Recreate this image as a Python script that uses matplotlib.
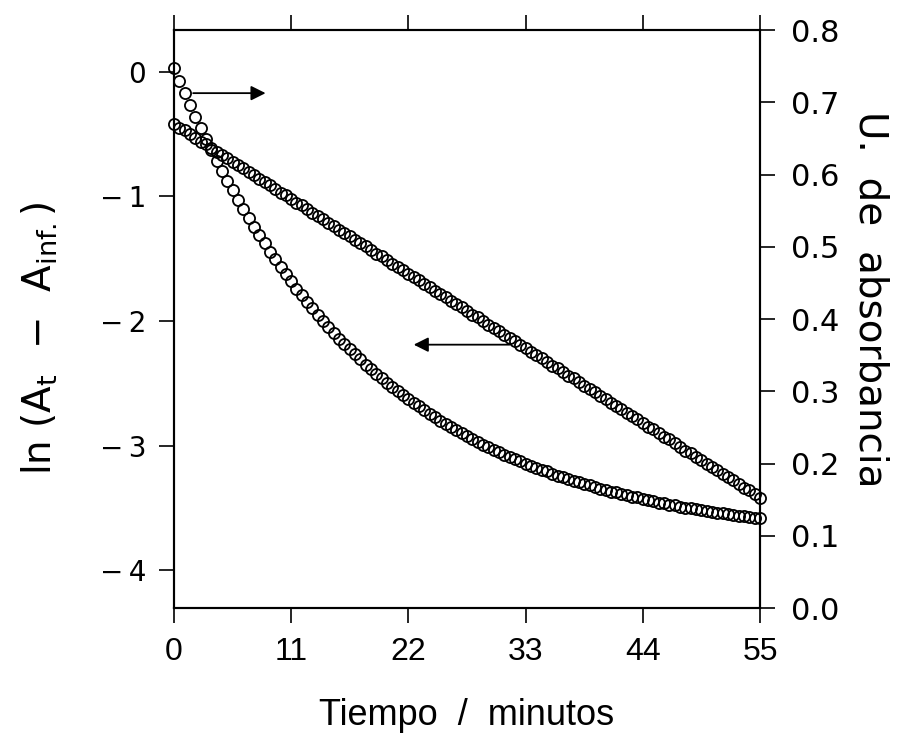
import matplotlib
matplotlib.use("Agg")
import matplotlib.pyplot as plt
import numpy as np

plt.rcParams['font.family'] = ['Liberation Sans', 'DejaVu Sans']
plt.rcParams['mathtext.fontset'] = 'custom'
plt.rcParams['mathtext.rm'] = 'DejaVu Sans'
plt.rcParams['mathtext.it'] = 'DejaVu Sans'

# sampling times (min), one reading every half minute
tiempo = np.arange(0, 55.01, 0.5)

# ln(A_t - A_inf) readings (left axis)
ln_dif = [
    -0.42, -0.45, -0.47, -0.50, -0.53, -0.56, -0.58, -0.61, -0.64, -0.67,
    -0.69, -0.72, -0.75, -0.77, -0.80, -0.83, -0.86, -0.88, -0.91, -0.94,
    -0.97, -0.99, -1.02, -1.05, -1.07, -1.10, -1.13, -1.16, -1.18, -1.21,
    -1.24, -1.27, -1.29, -1.32, -1.35, -1.37, -1.40, -1.43, -1.46, -1.48,
    -1.51, -1.54, -1.57, -1.59, -1.62, -1.65, -1.67, -1.70, -1.73, -1.76,
    -1.78, -1.81, -1.84, -1.86, -1.89, -1.92, -1.95, -1.97, -2.00, -2.03,
    -2.06, -2.08, -2.11, -2.14, -2.16, -2.19, -2.22, -2.25, -2.27, -2.30,
    -2.33, -2.36, -2.38, -2.41, -2.44, -2.46, -2.49, -2.52, -2.55, -2.57,
    -2.60, -2.63, -2.66, -2.68, -2.71, -2.74, -2.76, -2.79, -2.82, -2.85,
    -2.87, -2.90, -2.93, -2.95, -2.98, -3.01, -3.04, -3.06, -3.09, -3.12,
    -3.15, -3.17, -3.20, -3.23, -3.25, -3.28, -3.31, -3.34, -3.36, -3.39,
    -3.42,
]

# absorbance readings (right axis)
absorbancia = [
    0.748, 0.730, 0.713, 0.696, 0.680, 0.664, 0.649, 0.634, 0.619, 0.605,
    0.591, 0.578, 0.565, 0.552, 0.540, 0.528, 0.516, 0.505, 0.493, 0.483,
    0.472, 0.462, 0.452, 0.442, 0.433, 0.424, 0.415, 0.406, 0.397, 0.389,
    0.381, 0.373, 0.366, 0.358, 0.351, 0.344, 0.337, 0.331, 0.324, 0.318,
    0.312, 0.306, 0.300, 0.295, 0.289, 0.284, 0.279, 0.274, 0.269, 0.264,
    0.259, 0.255, 0.250, 0.246, 0.242, 0.238, 0.234, 0.230, 0.226, 0.223,
    0.219, 0.216, 0.212, 0.209, 0.206, 0.203, 0.200, 0.197, 0.194, 0.191,
    0.189, 0.186, 0.183, 0.181, 0.179, 0.176, 0.174, 0.172, 0.170, 0.167,
    0.165, 0.163, 0.161, 0.160, 0.158, 0.156, 0.154, 0.153, 0.151, 0.149,
    0.148, 0.146, 0.145, 0.143, 0.142, 0.140, 0.139, 0.138, 0.137, 0.135,
    0.134, 0.133, 0.132, 0.131, 0.130, 0.129, 0.128, 0.127, 0.126, 0.125,
    0.124,
]

x_ticks = [0, 11, 22, 33, 44, 55]
left_ticks = [-4, -3, -2, -1, 0]
right_ticks = [0.0, 0.1, 0.2, 0.3, 0.4, 0.5, 0.6, 0.7, 0.8]

fig = plt.figure(figsize=(8.99, 7.54), dpi=100)
ax = fig.add_axes([0.1935, 0.1936, 0.6519, 0.7666])
ax2 = ax.twinx()

marker_style = dict(linestyle='none', marker='o', markersize=8,
                    markerfacecolor='none', markeredgecolor='black',
                    markeredgewidth=1.3, clip_on=False)

ax.plot(tiempo, ln_dif, **marker_style)
ax2.plot(tiempo, absorbancia, **marker_style)

ax.set_xlim(0, 55)
ax.set_ylim(-4.305, 0.337)
ax2.set_ylim(0, 0.8)

ax.set_xticks(x_ticks)
ax.set_yticks(left_ticks)
ax.set_yticklabels(['\u2212\u2009' + str(abs(v)) if v < 0 else str(v)
                    for v in left_ticks])
ax2.set_yticks(right_ticks)
ax2.set_yticklabels([f"{v:.1f}" for v in right_ticks])

for a in (ax, ax2):
    for s in a.spines.values():
        s.set_linewidth(1.5)

ax.tick_params(axis='x', which='both', direction='out', top=True,
               length=11, width=1.2, pad=10, labelsize=23)
ax.tick_params(axis='y', direction='out', length=11, width=1.2,
               pad=9, labelsize=20)
ax2.tick_params(axis='y', direction='out', length=11, width=1.2,
                pad=11, labelsize=22)

for lbl in ax.get_yticklabels() + ax2.get_yticklabels():
    lbl.set_family('DejaVu Sans')

ax.set_xlabel('Tiempo  /  minutos', fontsize=26, labelpad=22)

# axis titles placed in figure coordinates
fig.text(0.0445, 0.552,
         r'ln (A$_{\mathrm{t}}$  $-$  A$_{\mathrm{inf.}}$)',
         fontsize=28, rotation=90, ha='center', va='center',
         family='DejaVu Sans')
fig.text(0.968, 0.603, 'U.  de  absorbancia', fontsize=28, rotation=-90,
         ha='center', va='center', family='DejaVu Sans')

# arrows pointing each series to its axis
ax.annotate('', xy=(8.6, -0.17), xytext=(1.8, -0.17),
            arrowprops=dict(arrowstyle='-|>', color='black', lw=1.3,
                            mutation_scale=22, shrinkA=0, shrinkB=0))
ax.annotate('', xy=(22.5, -2.19), xytext=(31.5, -2.19),
            arrowprops=dict(arrowstyle='-|>', color='black', lw=1.3,
                            mutation_scale=22, shrinkA=0, shrinkB=0))

fig.savefig('out.png', dpi=100, facecolor='white')
